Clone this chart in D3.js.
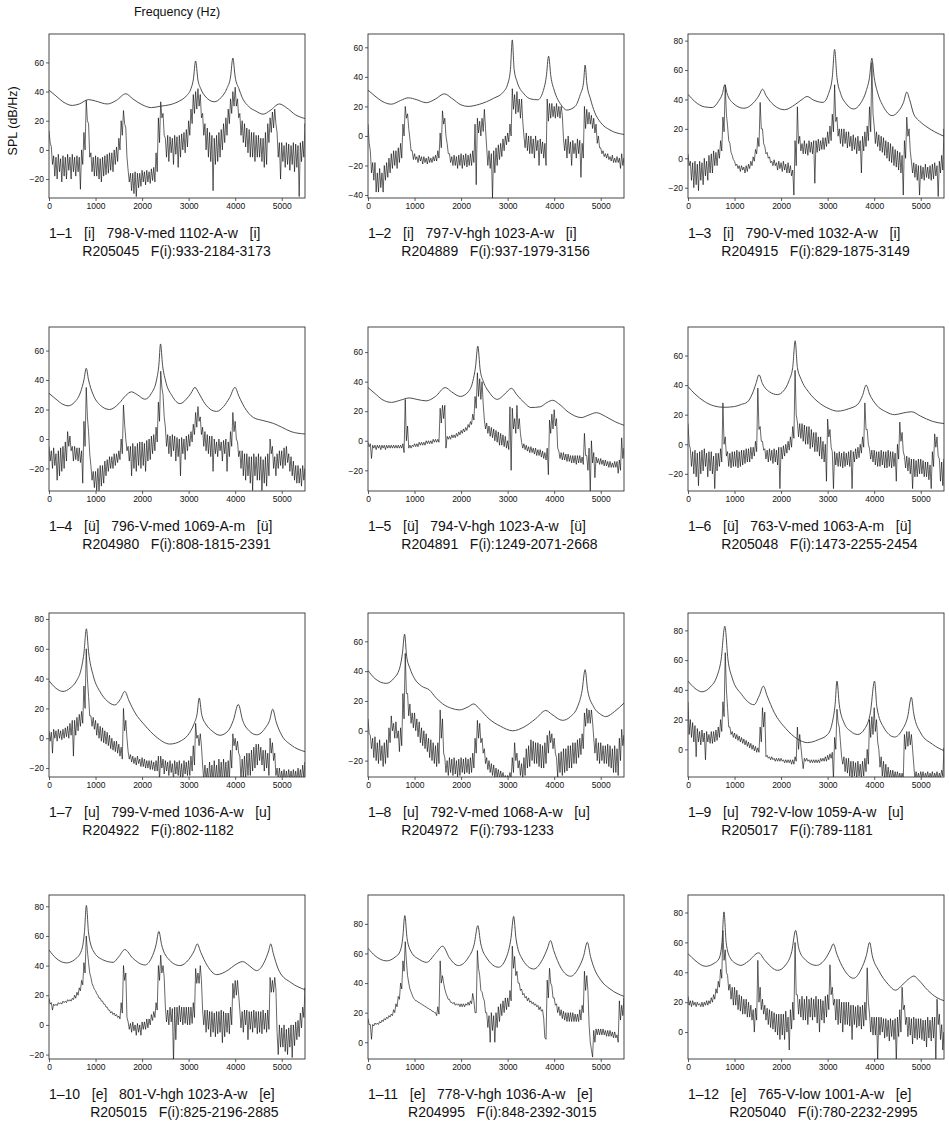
<!DOCTYPE html>
<html>
<head>
<meta charset="utf-8">
<script src="https://cdn.jsdelivr.net/npm/d3@7"></script>
<style>
body { margin: 0; background: #fff; }
text { font-family: "Liberation Sans", Arial, Helvetica, sans-serif; fill: #111; }
</style>
</head>
<body>
<script>
'use strict';

/* globals d3 */

// ---- data ----------------------------------------------------------------

// spectra are read as 50 Hz bins from 0 to 5500 Hz: upper and lower edge of the trace
var binWidth = 50;
var xTicks = [0, 1000, 2000, 3000, 4000, 5000];

// y range (dB) shown in every panel, bottom / top
var yRanges = [
    [-33, 79.5], [-42, 69], [-27, 84.5],
    [-35.3, 76], [-34, 77], [-31.6, 79.3],
    [-26, 84], [-31, 79], [-18.6, 91.7],
    [-23, 87.6], [-11.3, 99.5], [-18, 91.7]
];

var captionLine1 = [
    '1–1   [i]   798-V-med 1102-A-w   [i]',
    '1–2   [i]   797-V-hgh 1023-A-w   [i]',
    '1–3   [i]   790-V-med 1032-A-w   [i]',
    '1–4   [ü]   796-V-med 1069-A-m   [ü]',
    '1–5   [ü]   794-V-hgh 1023-A-w   [ü]',
    '1–6   [ü]   763-V-med 1063-A-m   [ü]',
    '1–7   [u]   799-V-med 1036-A-w   [u]',
    '1–8   [u]   792-V-med 1068-A-w   [u]',
    '1–9   [u]   792-V-low 1059-A-w   [u]',
    '1–10   [e]   801-V-hgh 1023-A-w   [e]',
    '1–11   [e]   778-V-hgh 1036-A-w   [e]',
    '1–12   [e]   765-V-low 1001-A-w   [e]'
];
var captionLine2 = [
    'R205045   F(i):933-2184-3173',
    'R204889   F(i):937-1979-3156',
    'R204915   F(i):829-1875-3149',
    'R204980   F(i):808-1815-2391',
    'R204891   F(i):1249-2071-2668',
    'R205048   F(i):1473-2255-2454',
    'R204922   F(i):802-1182',
    'R204972   F(i):793-1233',
    'R205017   F(i):789-1181',
    'R205015   F(i):825-2196-2885',
    'R204995   F(i):848-2392-3015',
    'R205040   F(i):780-2232-2995'
];

// smooth (LPC) envelopes: [Hz, dB]
var env1 = [[0,41],[150,37],[300,33],[500,30.5],[650,31.5],[850,34.5],[1000,33.5],[1250,31.5],[1450,34],[1650,38.5],[1800,35],[2000,31],[2200,29],[2400,30],[2600,31],[2800,33.5],[2950,37],[3050,42],[3100,48],[3150,61],[3200,48],[3260,42],[3350,37],[3550,33],[3700,36],[3820,42],[3900,50],[3950,63],[4000,50],[4080,42],[4150,36],[4300,29.5],[4450,26.5],[4600,24.5],[4750,27],[4950,31.5],[5100,29],[5300,24],[5500,21.5]];
var env2 = [[0,31],[150,27],[300,23.5],[500,21.5],[700,24],[866,25.8],[1050,24.5],[1250,22.5],[1450,25],[1640,28.5],[1800,25.5],[2000,21],[2150,20],[2400,21.5],[2700,25.5],[2900,29.5],[3000,35],[3060,45],[3100,65],[3140,45],[3200,37],[3350,28.5],[3500,25],[3650,24.5],[3760,30],[3830,40],[3880,54],[3930,40],[4000,31],[4150,21],[4270,17.5],[4450,20],[4560,28],[4630,36],[4665,48],[4700,36],[4780,25],[4870,16],[5000,9],[5200,4],[5500,1]];
var env3 = [[0,43.5],[150,38.5],[350,35],[520,34.5],[650,38.5],[740,44],[790,50],[840,44],[950,38],[1200,34],[1400,37.5],[1530,43],[1600,47],[1680,42.5],[1850,36],[2074,33],[2300,36.5],[2450,40],[2560,42],[2700,39.5],[2900,38],[3020,44],[3100,55],[3150,74],[3200,55],[3280,44],[3400,37],[3555,33.5],[3700,37],[3830,46],[3900,55],[3950,68],[4000,55],[4080,44],[4200,35],[4386,29],[4520,32],[4630,38],[4700,45],[4760,40],[4850,30],[4950,26],[5100,22],[5300,18],[5500,15]];
var env4 = [[0,31],[150,27],[300,23.5],[409,22.5],[550,25],[680,32],[750,40],[800,48],[850,40],[950,30],[1100,23],[1300,20],[1500,24],[1650,29.5],[1770,32],[1900,30],[2059,27],[2200,31],[2310,40],[2360,50],[2396,64.5],[2440,50],[2500,40],[2650,29],[2812,24],[2950,27],[3050,31],[3135,35],[3220,31],[3350,24],[3500,19.5],[3600,18.7],[3750,22],[3880,28],[3996,35],[4080,29],[4200,21.5],[4390,14.6],[4600,12.5],[4820,10.6],[5000,8],[5200,5],[5500,3.4]];
var env5 = [[0,36],[150,32],[300,28],[505,26],[700,27.5],[887,29],[1050,28],[1248,27],[1450,30],[1660,36],[1800,33],[1984,30],[2150,33],[2250,40],[2310,50],[2359,64],[2410,48],[2480,40],[2600,33],[2778,28],[2950,32],[3081,35.5],[3200,31],[3350,26],[3500,22.5],[3700,23],[3850,26],[3968,27.4],[4100,25],[4300,19.5],[4582,15.7],[4750,17.5],[4906,19],[5100,16.5],[5300,13],[5500,10.5]];
var env6 = [[0,39],[150,34],[350,29],[550,26],[770,25],[1000,25.5],[1150,27],[1273,28.5],[1380,34],[1460,41],[1525,47],[1600,41],[1750,35.5],[1921,33.6],[2050,36],[2170,43],[2250,52],[2302,70],[2350,52],[2430,44],[2600,35],[2800,28.5],[3000,24.5],[3216,22.4],[3450,24],[3647,27],[3750,33],[3827,40],[3900,34],[4050,26.5],[4250,22],[4439,20],[4600,21],[4799,22],[5000,19],[5250,15.5],[5500,14]];
var env7 = [[0,38.6],[150,33.5],[301,31.4],[450,33.5],[600,39],[680,45],[750,57],[803,73.4],[850,58],[950,42],[1100,31],[1250,25],[1413,22.3],[1530,26],[1628,31.4],[1720,25],[1850,17],[2050,9],[2300,1],[2597,-3.9],[2850,-1.5],[3027,4],[3120,10],[3180,16],[3228,27],[3280,16],[3380,9],[3500,5],[3673,2],[3850,5],[3960,12],[4067,22.7],[4160,12],[4300,5],[4462,2.3],[4650,7],[4740,12],[4806,19.5],[4880,11],[5000,2],[5200,-4.5],[5500,-9]];
var env8 = [[0,40.5],[150,35],[393,31.8],[550,35],[680,42],[740,52],[786,64.8],[830,50],[900,42],[1000,35],[1150,30],[1321,27.3],[1450,22.5],[1607,18],[1800,15],[1964,14],[2150,16],[2271,18],[2400,14.5],[2600,8],[2850,3],[3107,0],[3350,2.5],[3600,8],[3821,13.6],[3950,11],[4179,7],[4350,9.5],[4500,16],[4600,27],[4664,41],[4720,27],[4850,16],[5000,11],[5107,9.5],[5300,13],[5500,18.6]];
var env9 = [[0,45.9],[150,41],[302,38.7],[480,42],[620,49],[710,60],[791,82.8],[860,60],[950,48],[1150,37],[1417,30],[1530,36],[1619,42.5],[1700,36],[1850,25],[2100,14],[2350,7],[2568,4.5],[2800,6.5],[3000,10],[3100,18],[3160,30],[3201,45.9],[3250,30],[3350,18],[3500,12],[3647,10],[3800,14],[3920,25],[4007,45.9],[4060,28],[4200,15],[4439,8.3],[4600,13],[4720,22],[4799,35],[4850,24],[5000,11],[5250,3.5],[5500,-1]];
var env10 = [[0,50.5],[150,45],[373,41.8],[550,44],[696,50],[760,62],[803,80.6],[850,62],[950,50],[1150,44],[1377,42.2],[1500,46],[1628,50.8],[1800,45],[2059,40.4],[2200,45],[2300,54],[2360,63],[2420,54],[2550,45],[2812,40],[3000,44],[3120,50],[3185,54.6],[3260,49],[3400,40],[3601,33.9],[3850,37],[4000,40.5],[4161,42.7],[4300,40],[4462,36.6],[4620,42],[4720,50],[4763,54.6],[4820,48],[4950,36],[5200,28.5],[5500,23.7]];
var env11 = [[0,63.5],[150,58.5],[396,55],[580,57.5],[683,61],[745,70],[791,85.6],[840,70],[930,61],[1100,56],[1259,54],[1450,60],[1604,64.9],[1750,57],[1942,51.8],[2150,57],[2280,66],[2360,78.8],[2420,67],[2550,57],[2806,50.7],[2980,58],[3070,70],[3129,85],[3180,70],[3300,57],[3561,49.5],[3750,56],[3850,63],[3921,68.7],[3990,62],[4150,50],[4353,44.6],[4520,50],[4630,58],[4712,67.6],[4780,58],[4860,50],[5000,42],[5200,36],[5500,31]];
var env12 = [[0,52.5],[150,48],[376,44],[560,46],[665,49],[730,60],[773,80.4],[820,60],[900,50],[1050,45.5],[1134,44.6],[1300,47.5],[1517,53],[1650,48],[1929,41.3],[2100,45],[2230,54],[2312,68],[2380,56],[2500,49],[2760,44.6],[2950,49],[3060,55],[3121,59],[3200,52],[3350,42],[3555,36],[3720,42],[3830,51],[3902,60],[3960,51],[4100,41],[4300,32],[4458,28],[4620,32],[4760,36],[4855,37.5],[4950,35],[5150,28],[5350,23],[5500,21]];

// measured spectra, upper edge (hi) and lower edge (lo) of each 50 Hz bin, dB
var hi1 = [13,2,-4,-5,-3,-6,-4,-5,-3,-5, -3,-5,-4,-5,0,12,34,18,-2,-5, -4,-5,-6,-5,-4,-3,-2,-2,0,2, 8,20,27,15,-14,-16,-16,-15,-16,-16, -14,-15,-14,-15,-13,-12,-2,22,33,25, 8,10,9,8,10,9,10,11,12,14, 20,28,38,40,42,38,25,18,15,12, 10,8,10,12,14,18,22,28,35,40, 43,35,25,20,18,15,14,12,12,10, 10,8,8,12,18,22,26,28,12,5, 5,3,5,4,3,5,4,3,5,6,18];
var lo1 = [5,-10,-18,-20,-15,-22,-18,-20,-14,-20, -15,-18,-15,-27,-10,0,20,-5,-15,-18, -18,-20,-22,-18,-17,-16,-14,-15,-10,-8, 0,10,18,-5,-22,-28,-30,-32,-26,-25, -22,-24,-22,-23,-21,-22,-15,5,22,10, -5,-8,-2,-10,-3,-12,-5,0,-2,2, 10,18,25,28,30,22,10,0,-5,-8, -28,-10,-8,-5,0,5,10,18,25,30, 30,22,10,5,2,-2,-5,-5,-8,-5, -5,-8,-12,-10,5,12,15,18,-5,-20, -8,-12,-10,-14,-10,-15,-12,-32,-8,-5,10];
var hi2 = [8,-10,-18,-18,-25,-22,-25,-20,-18,-15, -12,-10,-10,-8,-5,8,20,15,-2,-10, -12,-14,-13,-14,-14,-15,-14,-15,-14,-13, -10,2,17,12,-5,-12,-14,-13,-14,-13, -12,-13,-12,-13,-12,-10,8,12,10,12, 18,-8,-10,-12,-10,-8,-6,-5,-2,0, 2,8,32,28,30,25,25,0,2,0, 0,-2,0,-3,-2,-4,-5,25,22,22, 20,22,20,20,-2,-2,0,-4,-3,-5, -2,-3,-5,20,18,16,14,12,8,0, -8,-10,-12,-12,-14,-13,-15,-14,-15,-12,-15];
var lo2 = [-5,-25,-30,-38,-38,-35,-38,-30,-28,-25, -22,-20,-22,-18,-15,0,12,5,-10,-16, -16,-18,-17,-19,-18,-19,-18,-18,-17,-17, -15,-8,8,0,-12,-18,-20,-20,-22,-20, -22,-20,-21,-20,-20,-18,-33,2,0,3, 5,-20,-22,-42,-25,-20,-16,-14,-10,-6, -4,0,18,15,16,12,10,-8,-10,-12, -12,-15,-10,-20,-12,-15,-20,10,12,13, 12,13,12,14,-10,-15,-12,-20,-12,-15, -12,-28,-15,5,8,8,5,2,-5,-8, -12,-14,-15,-16,-17,-18,-18,-18,-22,-20,-24];
var hi3 = [3,-2,-3,-2,-4,-2,-3,0,-2,2, 3,5,4,6,12,28,50,22,10,2, -2,-4,-5,-5,-6,-5,-4,-2,1,6, 14,38,20,8,4,1,-2,-1,-3,-2, -3,-2,-4,-3,-5,-8,12,35,15,10, 12,10,12,11,12,12,13,12,14,14, 18,22,30,50,28,20,20,20,18,18, 15,16,14,15,12,15,18,22,35,65, 22,18,16,15,14,12,11,10,8,6, 5,4,2,12,28,20,-2,-3,-4,-5, -5,-6,-4,-6,-5,-4,-3,-5,-2,2,20];
var lo3 = [-5,-15,-20,-18,-22,-15,-18,-12,-15,-10, -10,-5,-5,0,5,18,30,12,4,-1, -5,-7,-9,-8,-10,-9,-7,-5,-2,3, 8,20,10,3,0,-3,-5,-5,-8,-7, -9,-8,-10,-10,-12,-25,-5,10,5,3, 3,2,4,3,-17,4,5,6,6,8, 10,12,18,25,15,10,8,10,7,8, 5,6,3,5,-10,5,8,12,18,30, 10,8,5,4,2,0,-2,-3,-5,-6, -8,-10,-25,0,15,5,-10,-13,-15,-25, -14,-15,-13,-14,-15,-14,-12,-26,-10,-8,5];
var hi4 = [-5,-8,-6,-10,-8,-6,-5,-2,5,2, -5,-5,-6,-6,-8,12,35,5,-18,-22, -22,-20,-18,-18,-15,-14,-12,-12,-10,-10, -8,0,23,0,-5,-5,-3,-5,-3,-2, -2,-3,-1,0,2,3,8,25,46,30, 8,3,2,3,2,1,0,1,0,2, 3,5,10,18,22,15,8,5,3,2, 2,0,-2,0,-2,-1,0,-2,5,18, 12,-2,-8,-8,-10,-10,-12,-12,-10,-12, -10,-12,-14,-12,-10,0,-5,-12,-10,-8, -8,-6,-5,-10,-12,-15,-18,-18,-20,-18,-20];
var lo4 = [-15,-20,-18,-28,-25,-22,-20,-15,-5,-8, -15,-14,-15,-16,-30,-5,15,-10,-28,-33, -35,-35,-32,-30,-25,-22,-20,-20,-18,-16, -14,-10,10,-8,-15,-25,-20,-22,-18,-20, -18,-22,-15,-14,-10,-8,-2,12,35,15, -5,-10,-12,-8,-15,-12,-25,-10,-14,-8, -5,-2,3,8,12,3,-5,-8,-10,-12, -22,-10,-12,-8,-15,-10,-22,-12,-5,5, 0,-12,-20,-25,-28,-25,-30,-35,-25,-28, -28,-35,-30,-32,-25,-10,-20,-25,-20,-18, -20,-18,-16,-22,-25,-28,-30,-30,-32,-28,-30];
var hi5 = [-1,-2,-3,-3,-3,-3,-3,-3,-3,-3, -3,-3,-3,-3,-3,-2,28,10,-3,-3, -2,-2,-1,-1,-1,0,0,0,1,1, 1,22,24,24,3,3,4,4,5,6, 7,8,9,11,13,18,30,46,42,40, 14,12,10,9,8,7,6,5,4,3, 0,23,22,15,24,15,-1,-2,-3,-4, -4,-5,-5,-6,-6,-7,-8,-5,14,18, 21,15,-7,-8,-8,-9,-9,-10,-10,-10, -10,-10,-11,5,-10,-5,0,-8,-11,-12, -12,-13,-13,-14,-14,-15,-14,-14,-13,2,-5];
var lo5 = [-4,-12,-5,-6,-5,-6,-5,-6,-5,-5, -5,-5,-5,-5,-5,-8,0,-5,-5,-4, -4,-4,-3,-3,-3,-2,-2,-2,-1,-1, -1,12,15,-5,1,1,2,2,3,4, 5,6,7,9,11,14,22,30,28,25, 8,5,3,2,0,-1,-3,-3,-4,-5, -6,-20,8,5,8,5,-5,-6,-7,-8, -8,-9,-10,-10,-11,-12,-13,-23,5,8, 10,-5,-12,-13,-13,-14,-14,-15,-15,-16, -15,-15,-16,-10,-20,-35,-15,-25,-15,-16, -16,-17,-17,-18,-18,-18,-18,-22,-20,-12,-12];
var hi6 = [14,-3,-5,-4,-6,-5,-4,-3,-6,-5, -5,-8,-6,-6,-3,28,5,-5,-6,-5, -5,-4,-5,-4,-4,-3,-3,-2,-2,2, 38,12,2,-3,-4,-3,-4,-3,-4,-2, -2,-1,0,2,5,12,50,15,14,14, 13,12,12,10,8,8,5,5,2,0, 17,10,-5,-5,-6,-5,-6,-5,-6,-5, -4,-5,-3,-2,0,5,28,10,-3,-4, -4,-5,-5,-4,-5,-5,-4,-5,-5,-6, 0,15,8,-8,-8,-9,-10,-10,-11,-10, -10,-11,-12,-12,-14,-5,7,5,-10,-12,-10];
var lo6 = [0,-15,-20,-22,-28,-20,-18,-15,-22,-18, -20,-30,-18,-15,-12,0,-8,-15,-16,-15, -15,-16,-15,-14,-13,-12,-12,-10,-8,-5, 10,2,-4,-10,-12,-11,-13,-12,-14,-30, -10,-8,-6,-4,-2,4,20,5,4,2, 0,0,-3,-2,-5,-5,-8,-10,-12,-25, 5,-2,-30,-14,-15,-15,-16,-15,-14,-15, -30,-12,-10,-9,-6,-2,10,0,-10,-12, -14,-15,-15,-14,-16,-16,-15,-16,-15,-25, -10,2,-5,-16,-18,-20,-30,-22,-22,-20, -20,-22,-22,-24,-30,-15,-2,-8,-25,-28,-28];
var hi7 = [5,4,6,5,6,5,6,7,8,10, 12,12,14,16,18,35,60,28,15,14, 12,10,8,7,5,4,2,0,-2,-2, -4,-6,20,12,-9,-11,-12,-13,-12,-14, -13,-14,-15,-15,-15,-16,-15,-12,-12,-14, -15,-16,-15,-17,-15,-16,-15,-17,-15,-16, -15,-12,-5,10,2,3,-18,-18,-20,-16, -18,-15,-18,-14,-16,-14,-16,-15,-8,3, 0,-2,-12,-14,-12,-10,-10,-8,-6,-4, -4,-6,-8,-8,-10,0,-3,-10,-20,-20, -22,-21,-22,-21,-22,-21,-22,-20,-21,-18,-16];
var lo7 = [-2,-10,0,-2,0,-1,0,1,0,2, -12,2,5,8,10,20,40,15,8,6, 2,0,-2,-3,-4,-5,-7,-8,-9,-10, -12,-14,5,0,-14,-16,-17,-18,-17,-19, -19,-20,-20,-21,-21,-22,-22,-28,-20,-24, -22,-25,-23,-28,-24,-25,-26,-29,-24,-25, -25,-22,-18,0,-5,-5,-28,-28,-30,-28, -30,-28,-30,-28,-30,-27,-30,-28,-20,-5, -8,-10,-28,-26,-28,-25,-25,-22,-20,-18, -15,-18,-22,-20,-25,-10,-15,-25,-28,-28, -28,-28,-29,-28,-29,-28,-29,-28,-28,-26,-25];
var hi8 = [8,-3,-5,-4,-8,-6,-10,-8,-6,2, 10,5,6,0,2,25,52,25,18,12, 12,8,6,2,0,-2,-5,-6,-8,-10, -8,14,8,-18,-20,-18,-19,-18,-20,-19, -18,-19,-18,-19,-18,-15,-5,7,5,-5, -12,-18,-20,-22,-23,-25,-26,-27,-28,-30, -30,-28,-18,-8,-15,-20,-22,-18,-12,-10, -6,-7,-8,-8,-9,-10,-8,-3,0,-2, -5,-18,-15,-14,-12,-12,-10,-10,-8,-8, -6,-5,-2,12,15,14,14,-5,-5,-8, -8,-10,-10,-9,-10,-12,-10,-12,-5,1,-3];
var lo8 = [-2,-12,-18,-20,-22,-20,-24,-22,-18,-8, 0,-5,-5,-14,-10,8,25,10,5,2, 0,-4,-8,-10,-12,-14,-18,-20,-22,-24, -22,-5,-15,-28,-30,-28,-30,-29,-31,-30, -28,-29,-28,-29,-28,-25,-15,-5,-8,-15, -22,-26,-28,-30,-31,-31,-32,-32,-32,-32, -32,-32,-28,-20,-25,-30,-32,-30,-25,-24, -20,-22,-22,-24,-25,-25,-22,-15,-8,-12, -15,-31,-28,-30,-28,-27,-25,-25,-22,-22, -18,-16,-12,3,5,5,6,-15,-20,-22, -20,-22,-22,-24,-25,-28,-28,-30,-20,-10,-15];
var hi9 = [32,20,18,16,14,12,13,11,12,10, 12,12,13,15,20,32,65,28,15,12, 11,10,9,8,7,6,5,4,3,2, 1,15,28,25,-4,-5,-5,-6,-6,-6, -6,-7,-7,-7,-7,-7,-5,15,10,-6, -6,-6,-7,-7,-7,-7,-7,-6,-6,-5, -4,-3,-2,8,27,15,-5,-5,-6,-6, -8,-8,-9,-8,-10,-8,-6,0,20,22, 28,20,0,-5,-8,-10,-12,-14,-14,-15, -15,-16,-16,10,12,12,10,-10,-15,-16, -15,-15,-16,-15,-16,-15,-16,-15,-16,-14,1];
var lo9 = [10,8,5,-5,5,3,5,-7,5,4, 4,5,6,8,12,22,40,15,10,8, 7,6,5,4,3,2,1,0,-1,-2, -2,5,15,-5,-6,-7,-7,-8,-8,-8, -8,-9,-9,-9,-10,-10,-8,0,2,-13, -8,-8,-9,-9,-9,-9,-9,-8,-8,-8, -7,-6,-20,0,18,5,-10,-15,-16,-18, -20,-18,-20,-18,-20,-18,-15,-10,8,10, 12,5,-12,-18,-20,-20,-20,-20,-20,-20, -20,-20,-20,0,2,3,0,-20,-20,-20, -19,-20,-19,-20,-19,-20,-19,-20,-19,-18,-10];
var hi10 = [18,15,14,14,15,15,16,16,17,17, 18,20,22,25,30,42,60,42,32,26, 23,20,18,16,14,12,10,9,8,7, 6,15,40,35,2,1,2,0,1,0, 2,2,4,4,7,9,15,40,47,40, 12,10,12,11,12,12,13,12,12,12, 12,12,15,38,35,40,10,10,10,9, 9,8,9,9,10,9,8,8,12,28, 30,30,10,9,10,10,9,9,10,9, 9,9,10,8,10,32,30,32,-5,0, -2,0,-3,-2,0,0,2,3,8,12,25];
var lo10 = [14,10,13,13,14,14,15,15,16,16, 17,18,20,23,27,35,50,35,28,24, 21,18,16,14,12,10,8,7,6,5, 4,8,30,5,-3,-5,-4,-7,-5,-7, -3,-3,-2,0,3,5,10,30,35,32, 2,0,2,-25,-10,0,2,0,1,0, 0,1,5,28,28,30,0,-5,-3,-8, -5,-8,-6,-5,-12,-8,-5,-6,0,18, 20,20,-2,-5,0,-10,-3,-5,-2,-6, -5,-6,-3,-5,-3,22,22,24,-20,-15, -15,-18,-20,-15,-22,-14,-10,-8,-2,5,15];
var hi11 = [16,12,12,13,13,14,15,16,17,18, 19,22,26,31,40,55,68,45,36,32, 29,28,27,26,25,24,23,22,21,20, 24,55,45,36,31,29,27,27,26,26, 26,26,26,27,28,33,20,62,45,34, 28,20,18,20,18,20,24,26,28,30, 30,35,65,58,48,40,36,33,31,30, 28,27,26,25,24,22,3,42,50,38, 30,26,24,22,21,20,20,20,20,19, 19,22,25,48,45,12,-5,8,9,9, 9,9,8,8,8,7,7,5,28,25,30];
var lo11 = [12,2,11,12,12,13,14,15,16,17, 18,20,24,29,36,48,55,40,34,30, 28,27,26,25,24,23,22,21,20,18, 19,40,40,33,29,27,26,25,25,24, 24,24,25,25,26,28,20,50,35,30, 20,10,0,8,0,10,14,18,20,22, 24,28,50,45,40,35,32,30,28,27, 26,25,24,22,21,16,2,30,40,30, 25,20,18,16,15,14,14,14,14,14, 14,15,20,35,35,0,-10,0,5,5, 5,5,4,4,4,3,3,0,15,18,20];
var hi12 = [24,21,21,20,20,19,20,20,21,21, 23,25,29,34,42,68,55,38,32,30, 30,28,25,24,22,22,20,18,15,16, 48,30,22,18,16,15,14,13,12,12, 12,12,14,10,15,20,60,25,22,24, 22,24,22,23,22,24,22,22,21,24, 25,45,30,22,22,22,20,20,20,20, 18,18,17,18,17,18,20,43,12,10, 10,10,10,10,9,9,8,9,8,9, 10,15,30,18,10,10,9,10,9,9, 9,8,8,10,8,10,10,22,12,5,0];
var lo12 = [18,17,18,17,18,17,17,18,18,19, 20,22,26,30,36,48,40,28,22,18, 18,15,14,12,12,10,10,8,0,8, 20,15,12,8,5,3,2,0,-2,-5, -2,-5,0,-12,2,8,25,12,10,8, 8,5,10,8,10,6,0,8,6,10, 15,25,18,8,5,6,0,5,5,4, -5,5,3,4,2,4,8,20,0,-2, -2,-18,-2,0,-4,-3,-6,-3,-5,-20, -3,0,15,5,-3,-2,-8,-4,-5,-4, -5,-6,-10,-4,-6,-4,-20,5,-5,-12,-20];

var envelopes = [env1, env2, env3, env4, env5, env6, env7, env8, env9, env10, env11, env12];
var upperEdges = [hi1, hi2, hi3, hi4, hi5, hi6, hi7, hi8, hi9, hi10, hi11, hi12];
var lowerEdges = [lo1, lo2, lo3, lo4, lo5, lo6, lo7, lo8, lo9, lo10, lo11, lo12];

// ---- chart ---------------------------------------------------------------

var spectraGrid = {

    settings: {
        width: 949,
        height: 1125,
        col_left: [49, 368, 688],
        row_top: [34, 327, 613, 895],
        plot_width: 256,
        plot_height: 164,
        tick_size: 3,
        tick_font: 8.5,
        title_font: 12.5,
        caption_font: 14,
        caption_gap1: 40,
        caption_gap2: 58,
        max_freq: 5500
    },

    init: function () {
        spectraGrid.svg = d3.select('body').append('svg')
            .attr('width', spectraGrid.settings.width)
            .attr('height', spectraGrid.settings.height);

        spectraGrid.drawLabels();

        for (var i = 0; i < envelopes.length; i++) {
            spectraGrid.drawPanel(i);
        }
    },

    /**
     * Axis titles, drawn once next to the first panel
     */
    drawLabels: function () {
        var s = spectraGrid.settings;
        spectraGrid.svg.append('text')
            .attr('x', s.col_left[0] + s.plot_width / 2)
            .attr('y', 16)
            .attr('text-anchor', 'middle')
            .attr('font-size', s.title_font + 'px')
            .text('Frequency (Hz)');

        spectraGrid.svg.append('text')
            .attr('transform', 'translate(17,' + (s.row_top[0] + s.plot_height * 0.53) + ') rotate(-90)')
            .attr('text-anchor', 'middle')
            .attr('font-size', s.title_font + 'px')
            .text('SPL (dB/Hz)');
    },

    /**
     * Trace points: the upper edge at the start of a bin, the lower edge at its middle
     */
    tracePoints: function (i) {
        var pts = [];
        upperEdges[i].forEach(function (v, k) {
            pts.push([k * binWidth, v]);
            pts.push([k * binWidth + binWidth / 2, lowerEdges[i][k]]);
        });
        return pts;
    },

    drawPanel: function (i) {
        var s = spectraGrid.settings;
        var left = s.col_left[i % 3];
        var top = s.row_top[Math.floor(i / 3)];

        var x = d3.scaleLinear().domain([0, s.max_freq]).range([0, s.plot_width]);
        var y = d3.scaleLinear().domain(yRanges[i]).range([s.plot_height, 0]);

        var g = spectraGrid.svg.append('g')
            .attr('transform', 'translate(' + left + ',' + top + ')');

        var clipId = 'clip' + i;
        g.append('clipPath').attr('id', clipId)
            .append('rect')
            .attr('width', s.plot_width)
            .attr('height', s.plot_height);

        var plot = g.append('g').attr('clip-path', 'url(#' + clipId + ')');

        var line = d3.line()
            .x(function (d) { return x(d[0]); })
            .y(function (d) { return y(d[1]); });

        // measured spectrum
        plot.append('path')
            .datum(spectraGrid.tracePoints(i))
            .attr('fill', 'none')
            .attr('stroke', '#000')
            .attr('stroke-width', 0.6)
            .attr('d', line);

        // LPC envelope
        plot.append('path')
            .datum(envelopes[i])
            .attr('fill', 'none')
            .attr('stroke', '#3a3a3a')
            .attr('stroke-width', 0.9)
            .attr('d', line.curve(d3.curveMonotoneX));

        // axes
        var xAxis = g.append('g')
            .attr('transform', 'translate(0,' + s.plot_height + ')')
            .call(d3.axisBottom(x).tickValues(xTicks).tickSize(s.tick_size).tickPadding(2).tickFormat(d3.format('d')));
        var yAxis = g.append('g')
            .call(d3.axisLeft(y).ticks(6).tickSize(s.tick_size).tickPadding(2).tickFormat(d3.format('d')));

        [xAxis, yAxis].forEach(function (a) {
            a.select('.domain').remove();
            a.selectAll('line').attr('stroke', '#333').attr('stroke-width', 0.8);
            a.selectAll('text')
                .attr('font-family', '"Liberation Sans", Arial, sans-serif')
                .attr('font-size', s.tick_font + 'px')
                .attr('fill', '#222');
        });
        // dB axis is labelled every 20 dB
        yAxis.selectAll('.tick').filter(function (d) { return d % 20 !== 0; }).remove();

        // frame
        g.append('rect')
            .attr('width', s.plot_width)
            .attr('height', s.plot_height)
            .attr('fill', 'none')
            .attr('stroke', '#333')
            .attr('stroke-width', 0.9);

        // two-line caption under the panel
        var cap = g.append('g').attr('font-size', s.caption_font + 'px');
        cap.append('text')
            .attr('x', 0)
            .attr('y', s.plot_height + s.caption_gap1)
            .style('white-space', 'pre')
            .text(captionLine1[i]);

        // second line starts a little past the panel number
        var prefix = cap.append('text').text(captionLine1[i].split(' ')[0]);
        var indent = prefix.node().getComputedTextLength() + 10;
        prefix.remove();

        cap.append('text')
            .attr('x', indent)
            .attr('y', s.plot_height + s.caption_gap2)
            .style('white-space', 'pre')
            .text(captionLine2[i]);
    }
};

spectraGrid.init();
</script>
</body>
</html>
